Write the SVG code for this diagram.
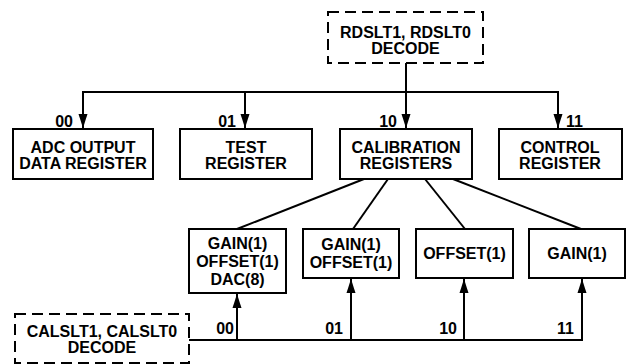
<svg xmlns="http://www.w3.org/2000/svg" width="628" height="364" viewBox="0 0 628 364">
<style>
.box{fill:#fff;stroke:#000;stroke-width:2}
.dash{fill:#fff;stroke:#000;stroke-width:2;stroke-dasharray:11 6}
.ln{fill:none;stroke:#000;stroke-width:2}
text{font-family:"Liberation Sans",Arial,sans-serif;font-weight:bold;font-size:16px;fill:#000}
.c{text-anchor:middle}
.e{text-anchor:end}
</style>
<defs>
<marker id="ah" viewBox="0 0 10 10" refX="10" refY="5" markerWidth="7" markerHeight="7" markerUnits="userSpaceOnUse" orient="auto">
<path d="M0,0 L10,5 L0,10 z" fill="#000"/>
</marker>
<marker id="a" viewBox="0 0 14 10" refX="14" refY="5" markerWidth="15" markerHeight="10" markerUnits="userSpaceOnUse" orient="auto">
<path d="M0,0.5 L14,5 L0,9.5 z" fill="#000"/>
</marker>
</defs>
<g id="connectors">
<path class="ln" d="M406,63 V128" marker-end="url(#a)"/>
<path class="ln" d="M83,92 H558"/>
<path class="ln" d="M83,91 V128" marker-end="url(#a)"/>
<path class="ln" d="M245,92 V128" marker-end="url(#a)"/>
<path class="ln" d="M558,91 V128" marker-end="url(#a)"/>
<path class="ln" d="M364,179 L237,229"/>
<path class="ln" d="M388,179 L353,229"/>
<path class="ln" d="M425,179 L465,229"/>
<path class="ln" d="M453,179 L581,229"/>
<path class="ln" d="M189,340 H582"/>
<path class="ln" d="M237,340 V294" marker-end="url(#a)"/>
<path class="ln" d="M351,340 V279" marker-end="url(#a)"/>
<path class="ln" d="M464,340 V279" marker-end="url(#a)"/>
<path class="ln" d="M582,341 V279" marker-end="url(#a)"/>
<text class="e" x="73" y="126.5">00</text>
<text class="e" x="236" y="126.5">01</text>
<text class="e" x="397" y="126.5">10</text>
<text x="566" y="126.5">11</text>
<text class="e" x="234" y="333.5">00</text>
<text class="e" x="343" y="333.5">01</text>
<text class="e" x="457" y="333.5">10</text>
<text class="e" x="574" y="333.5">11</text>
</g>
<g id="rdslt">
<rect class="dash" x="328" y="12" width="155" height="51"/>
<text class="c" x="405.5" y="37.5">RDSLT1, RDSLT0</text>
<text class="c" x="405.5" y="53.5">DECODE</text>
</g>
<g id="adc">
<rect class="box" x="13" y="129" width="140" height="50"/>
<text class="c" x="83" y="153">ADC OUTPUT</text>
<text class="c" x="83" y="169">DATA REGISTER</text>
</g>
<g id="test">
<rect class="box" x="180" y="129" width="132" height="50"/>
<text class="c" x="246" y="153">TEST</text>
<text class="c" x="246" y="169">REGISTER</text>
</g>
<g id="calib">
<rect class="box" x="340" y="129" width="132" height="50"/>
<text class="c" x="406" y="153">CALIBRATION</text>
<text class="c" x="406" y="169">REGISTERS</text>
</g>
<g id="control">
<rect class="box" x="499" y="129" width="123" height="50"/>
<text class="c" x="560" y="153">CONTROL</text>
<text class="c" x="560" y="169">REGISTER</text>
</g>
<g id="cal00">
<rect class="box" x="189" y="229" width="97" height="64"/>
<text class="c" x="237.5" y="249">GAIN(1)</text>
<text class="c" x="237.5" y="267">OFFSET(1)</text>
<text class="c" x="237.5" y="285">DAC(8)</text>
</g>
<g id="cal01">
<rect class="box" x="303" y="229" width="96" height="49"/>
<text class="c" x="351" y="250">GAIN(1)</text>
<text class="c" x="351" y="268">OFFSET(1)</text>
</g>
<g id="cal10">
<rect class="box" x="416" y="229" width="97" height="49"/>
<text class="c" x="464.5" y="259">OFFSET(1)</text>
</g>
<g id="cal11">
<rect class="box" x="529" y="229" width="96" height="49"/>
<text class="c" x="577" y="259">GAIN(1)</text>
</g>
<g id="calslt">
<rect class="dash" x="15" y="314" width="174" height="49"/>
<text class="c" x="102" y="337">CALSLT1, CALSLT0</text>
<text class="c" x="102" y="353">DECODE</text>
</g>
</svg>
